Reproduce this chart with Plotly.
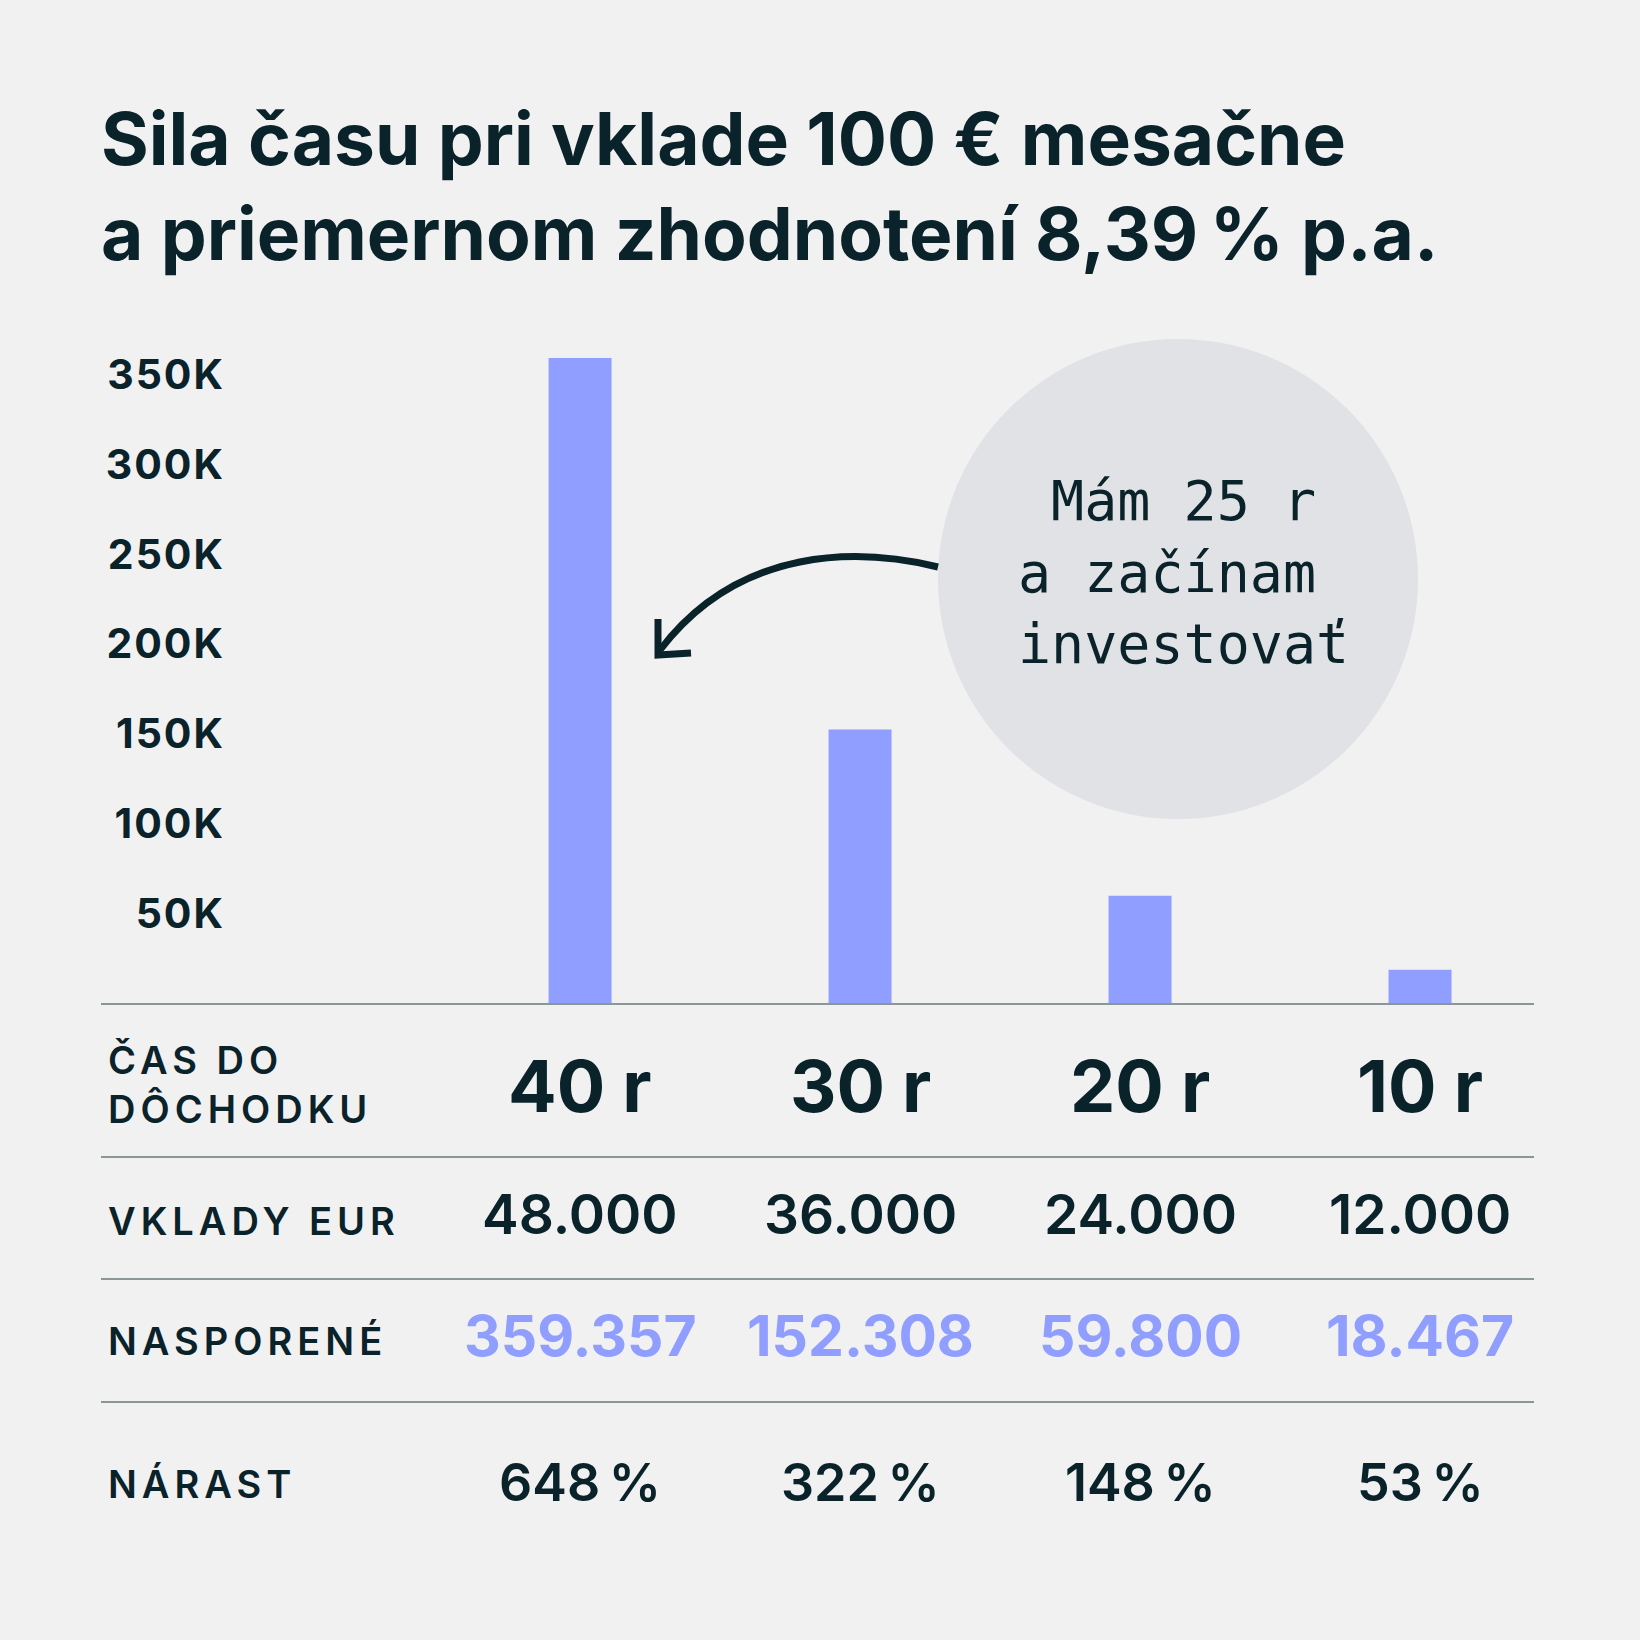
import plotly.graph_objects as go

# data
periods = ["40 r", "30 r", "20 r", "10 r"]
deposits = [48000, 36000, 24000, 12000]
saved = [359357, 152308, 59800, 18467]
growth = [648, 322, 148, 53]
tick_values = [50000, 100000, 150000, 200000, 250000, 300000, 350000]
tick_labels = ["50K", "100K", "150K", "200K", "250K", "300K", "350K"]
row_labels = ["ČAS DO<br>DÔCHODKU", "VKLADY EUR", "NASPORENÉ", "NÁRAST"]
title_text = "Sila času pri vklade 100 € mesačne<br>a priemernom zhodnotení 8,39\u202f% p.a."
bubble_text = "Mám 25 r<br>a začínam\u00a0<br>investovať"

W = H = 1640
BG = "#f1f1f1"
DARK = "#0a222a"
BLUE = "#909eff"
RULE = "#8b9699"
SANS = "Inter"


def px(x):
    return x / W


def py(y):
    return 1 - y / H


def fmt(v):
    return f"{v:,}".replace(",", ".")


def spaced(txt, sp):
    # tracked caps, like the original design
    return f'<span style="letter-spacing:{sp}px">{txt}</span>'


fig = go.Figure()

fig.add_trace(go.Bar(
    x=periods,
    y=saved,
    width=0.225,
    marker=dict(color=BLUE, line=dict(width=0)),
    hoverinfo="skip",
))

annotations = []

# table values, one row per series
rows = [
    (periods, 1085, 72, 700, DARK),
    ([fmt(v) for v in deposits], 1214, 55, 600, DARK),
    ([fmt(v) for v in saved], 1335, 57, 700, BLUE),
    ([f"{v}\u202f%" for v in growth], 1482, 52, 600, DARK),
]
for texts, yc, size, weight, color in rows:
    for cat, txt in zip(periods, texts):
        annotations.append(dict(
            x=cat, xref="x", y=py(yc), yref="paper",
            text=txt, showarrow=False, xanchor="center", yanchor="middle",
            font=dict(family=SANS, size=size, weight=weight, color=color),
        ))

label_y = [1084, 1221, 1341, 1484]
for lab, yc in zip(row_labels, label_y):
    annotations.append(dict(
        x=px(106), xref="paper", y=py(yc), yref="paper",
        text="<br>".join(spaced(part, 5) for part in lab.split("<br>")),
        showarrow=False, xanchor="left", yanchor="middle", align="left",
        font=dict(family=SANS, size=38, weight=600, color=DARK),
    ))

annotations.append(dict(
    x=px(1183), xref="paper", y=py(572), yref="paper",
    text=bubble_text, showarrow=False, xanchor="center", yanchor="middle", align="center",
    font=dict(family="DejaVu Sans Mono", size=55, color=DARK),
))

shapes = [
    dict(type="circle", xref="paper", yref="paper",
         x0=px(1178 - 240), x1=px(1178 + 240), y0=py(579 + 240), y1=py(579 - 240),
         fillcolor="#e1e2e5", line=dict(width=0), layer="below"),
]
for yl in [1157, 1279, 1402]:
    shapes.append(dict(type="line", xref="paper", yref="paper",
                       x0=px(101), x1=px(1534), y0=py(yl), y1=py(yl),
                       line=dict(color=RULE, width=2)))

# curved arrow from the bubble to the first bar
curve = [(938, 567), (860, 548), (740, 545), (660, 650)]
c = [f"{px(x):.5f},{py(y):.5f}" for x, y in curve]
shapes.append(dict(type="path", xref="paper", yref="paper",
                   path=f"M {c[0]} C {c[1]} {c[2]} {c[3]}",
                   line=dict(color=DARK, width=7)))
head = [(658, 619), (658, 655), (691, 653)]
h = [f"{px(x):.5f},{py(y):.5f}" for x, y in head]
shapes.append(dict(type="path", xref="paper", yref="paper",
                   path=f"M {h[0]} L {h[1]} L {h[2]}",
                   line=dict(color=DARK, width=7)))

fig.update_layout(
    width=W, height=H,
    margin=dict(l=0, r=0, t=0, b=0),
    paper_bgcolor=BG, plot_bgcolor=BG,
    showlegend=False,
    title=dict(
        text=title_text, x=px(101), xanchor="left", y=py(165), yanchor="top",
        font=dict(family=SANS, size=73, weight=700, color=DARK),
    ),
    xaxis=dict(
        type="category", categoryorder="array", categoryarray=periods,
        range=[-1.711, 3.407], domain=[px(101), px(1534)],
        showticklabels=False, showgrid=False, zeroline=False,
        showline=True, linecolor=RULE, linewidth=2, ticks="",
    ),
    yaxis=dict(
        anchor="free", position=px(225),
        range=[0, (1003 - 330) / 0.0017949], domain=[py(1003), py(330)],
        tickvals=tick_values, ticktext=[spaced(t, 2) for t in tick_labels], ticks="",
        showgrid=False, zeroline=False, showline=False,
        tickfont=dict(family=SANS, size=41, weight=700, color=DARK),
    ),
    annotations=annotations,
    shapes=shapes,
)

fig.write_html("out.html", config={"displayModeBar": False},
               post_script="document.body.style.margin='0';")
